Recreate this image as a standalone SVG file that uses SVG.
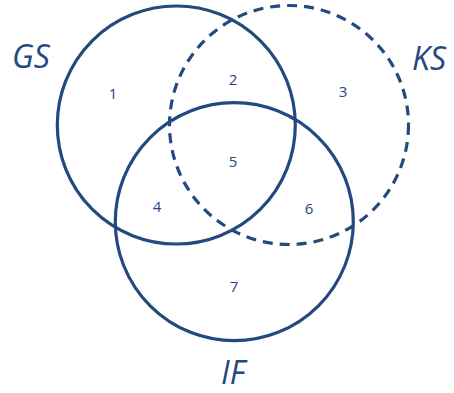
<svg xmlns="http://www.w3.org/2000/svg" width="454" height="393" viewBox="0 0 454 393">
<style>
.c{fill:none;stroke:#24497f;stroke-width:3.2}
.d{stroke-dasharray:10 7}
.lbl{font-family:"Open Sans","Liberation Sans",sans-serif;font-style:italic;font-size:32px;fill:#24497f}
.n{font-family:"Open Sans","Liberation Sans",sans-serif;font-size:15px;fill:#24497f;text-anchor:middle}
</style>
<rect width="454" height="393" fill="#fff"/>
<g id="GS"><circle class="c" cx="176.3" cy="125" r="119"/><text class="lbl" x="12" y="68">GS</text></g>
<g id="KS"><circle class="c d" cx="289" cy="125" r="119.5"/><text class="lbl" x="412" y="70">KS</text></g>
<g id="IF"><circle class="c" cx="234.3" cy="221.7" r="119"/><text class="lbl" x="221" y="384">IF</text></g>
<g id="regions">
<text class="n" x="113" y="99">1</text>
<text class="n" x="233" y="85">2</text>
<text class="n" x="343" y="97">3</text>
<text class="n" x="157" y="212">4</text>
<text class="n" x="233" y="167">5</text>
<text class="n" x="309" y="214">6</text>
<text class="n" x="234" y="292">7</text>
</g>
</svg>
